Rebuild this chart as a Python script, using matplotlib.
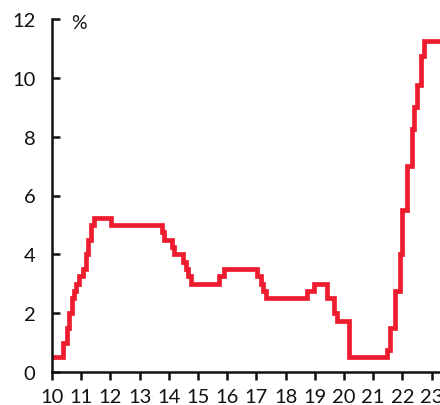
import matplotlib
matplotlib.use("Agg")
import matplotlib.pyplot as plt

plt.rcParams["font.family"] = ["Lato", "DejaVu Sans"]

# policy rate change points (year offset from 2000, rate in %)
dates = [10.0, 10.39, 10.50, 10.59, 10.67, 10.75, 10.82, 10.91, 11.07, 11.16,
         11.24, 11.32, 11.44, 12.02, 13.78, 13.85, 14.10, 14.18, 14.50, 14.58,
         14.67, 14.75, 15.72, 15.89, 17.01, 17.15, 17.24, 17.32, 18.74, 18.98,
         19.41, 19.67, 19.75, 20.18, 21.46, 21.58, 21.75, 21.92, 21.98, 22.15,
         22.32, 22.40, 22.49, 22.64, 22.74, 23.35]
rates = [0.5, 1.0, 1.5, 2.0, 2.5, 2.75, 3.0, 3.25, 3.5, 4.0,
         4.5, 5.0, 5.25, 5.0, 4.75, 4.5, 4.25, 4.0, 3.75, 3.5,
         3.25, 3.0, 3.25, 3.5, 3.25, 3.0, 2.75, 2.5, 2.75, 3.0,
         2.5, 2.0, 1.75, 0.5, 0.75, 1.5, 2.75, 4.0, 5.5, 7.0,
         8.25, 9.0, 9.75, 10.75, 11.25, 11.25]

xticks = list(range(10, 24))
yticks = [0, 2, 4, 6, 8, 10, 12]

fig = plt.figure(figsize=(4.4, 4.06), dpi=100)
ax = fig.add_axes([52 / 440, 33 / 406, 1 - 52 / 440, 353 / 406])

ax.step(dates, rates, where="post", color="#ED1C2E", lw=3.4, solid_joinstyle="miter")

ax.set_xlim(10, 23.29)
ax.set_ylim(0, 12)
ax.set_xticks(xticks)
ax.set_xticklabels([str(t) for t in xticks])
ax.set_yticks(yticks)

for s in ["top", "right"]:
    ax.spines[s].set_visible(False)
for s in ["left", "bottom"]:
    ax.spines[s].set_linewidth(1.8)
    ax.spines[s].set_color("#111111")

ax.tick_params(axis="y", direction="in", length=6, width=1.8, pad=12,
               labelsize=14.5, colors="#111111")
ax.tick_params(axis="x", direction="out", length=6, width=1.8, pad=5.5,
               labelsize=14.5, colors="#111111")

ax.text(0.05, 0.99, "%", transform=ax.transAxes, fontsize=14,
        va="center", ha="left", color="#111111")

fig.savefig("out.png", dpi=100)
